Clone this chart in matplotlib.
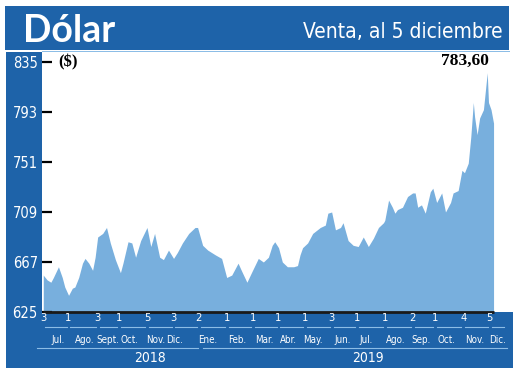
import matplotlib.pyplot as plt
from matplotlib.patches import Rectangle
from matplotlib.transforms import blended_transform_factory

# sesiones desde el 3 de julio de 2018 y valor de venta del dólar
sesion = [0, 3, 6, 8, 12, 15, 17, 20, 23, 25, 28, 31, 33, 36, 39, 41, 43, 47, 50, 53,
          57, 61, 63, 67, 70, 73, 77, 82, 85, 88, 92, 95, 99, 103, 106, 110, 115, 120, 122, 126,
          130, 136, 141, 145, 149, 154, 157, 161, 165, 170, 174, 178, 181, 183, 186, 189, 193, 198, 201, 203,
          205, 209, 213, 219, 223, 225, 228, 231, 235, 237, 241, 245, 249, 253, 257, 261, 265, 269, 270, 273,
          276, 278, 280, 284, 288, 292, 294, 296, 299, 302, 306, 308, 311, 315, 318, 322, 324, 328, 331, 333,
          336, 338, 340, 341, 343, 345, 348, 351, 352, 354, 356]
venta = [656, 652, 650, 654, 663, 654, 646, 639, 645, 646, 654, 666, 670, 666, 660, 671, 688, 691, 696, 683,
         669, 658, 666, 684, 683, 671, 685, 696, 680, 691, 671, 669, 677, 670, 675, 683, 691, 696, 696, 681,
         677, 673, 670, 654, 656, 666, 659, 650, 659, 670, 667, 671, 681, 684, 679, 667, 663, 663, 664, 673,
         679, 683, 691, 696, 698, 708, 709, 694, 696, 700, 685, 681, 680, 688, 680, 687, 696, 700, 702, 719,
         713, 708, 711, 713, 722, 725, 725, 713, 715, 708, 726, 729, 717, 725, 709, 717, 725, 727, 744, 742,
         750, 772, 801, 789, 774, 788, 795, 826, 801, 795, 783.6]

y_ticks = [625, 667, 709, 751, 793, 835]

# primer día hábil de cada mes
inicio_mes = [0, 20, 43, 60, 82, 103, 123, 145, 166, 186, 207, 228, 248, 270, 292, 310, 332, 353]
dia_mes = ["3", "1", "3", "1", "5", "3", "2", "1", "1", "1", "1", "3", "1", "1", "2", "1", "4", "5"]
meses = ["Jul.", "Ago.", "Sept.", "Oct.", "Nov.", "Dic.", "Ene.", "Feb.", "Mar.", "Abr.",
         "May.", "Jun.", "Jul.", "Ago.", "Sep.", "Oct.", "Nov.", "Dic."]
pos_meses = [12, 33, 51, 68, 89, 104, 130, 153, 175, 194, 213, 237, 255, 279, 299, 319, 341, 359]
anios = ["2018", "2019"]
pos_anios = [84, 257]
tramo_anios = [(-5, 122), (126, 367)]

AZUL = "#1e63a9"
AREA = "#78afdd"
CELESTE = "#8cbde6"
angosta = dict(family="DejaVu Sans", stretch="condensed")

W, H = 520, 372
fig = plt.figure(figsize=(W / 100, H / 100), dpi=100)


def px(x, y):
    return x / W, 1 - y / H


def caja(x0, y0, x1, y1, color):
    fx, fy = px(x0, y1)
    fig.patches.append(Rectangle((fx, fy), (x1 - x0) / W, (y1 - y0) / H,
                                 transform=fig.transFigure, color=color, lw=0, zorder=-5))


caja(5, 6, 509, 50, AZUL)       # cabecera
caja(6, 52, 42, 312, AZUL)      # columna eje y
caja(6, 312, 513, 368, AZUL)    # banda inferior
caja(42, 50.5, 510, 52, CELESTE)

fig.text(*px(23, 42), "Dólar", color="white", fontsize=27, fontweight="bold",
         family="Lato", va="baseline", ha="left")
fig.text(*px(503, 38), "Venta, al 5 diciembre", color="white", fontsize=15,
         va="baseline", ha="right", **angosta)

# área del gráfico
ax = fig.add_axes([42 / W, 1 - 312 / H, (510 - 42) / W, (312 - 52) / H])
ax.patch.set_alpha(0)
ax.fill_between(sesion, venta, 625, color=AREA, lw=0)
ax.plot([sesion[0], sesion[-1]], [625, 625], color="#1a1a1a", lw=2, clip_on=False,
        solid_capstyle="butt")
ax.set_xlim(-1, 369)
ax.set_ylim(625, 625 + 260 * 42 / 50)
for s in ax.spines.values():
    s.set_visible(False)
ax.set_xticks([])
ax.set_yticks(y_ticks)
ax.set_yticklabels([str(v) for v in y_ticks])
for lab in ax.get_yticklabels():
    lab.set_color("white")
    lab.set_fontsize(10.5)
    lab.set_fontstretch("condensed")
ax.tick_params(axis="y", direction="in", length=7.5, width=1.6, color="black", pad=3)

ax.text(12, 835, "($)", fontsize=12, fontweight="bold", family="Liberation Serif",
        va="center", ha="left")
ax.text(333, 829, "783,60", fontsize=12.5, fontweight="bold",
        family="Liberation Serif", va="bottom", ha="center")

# etiquetas del eje x en la banda inferior
tr = blended_transform_factory(ax.transData, fig.transFigure)
fy = lambda y: 1 - y / H
for x, d in zip(inicio_mes, dia_mes):
    ax.text(x, fy(318), d, transform=tr, color="white", fontsize=8,
            ha="center", va="center", clip_on=False, **angosta)
bordes = inicio_mes + [366]
for a, b in zip(bordes[:-1], bordes[1:]):
    ax.plot([a + 1.5, b - 1.5], [fy(327), fy(327)], transform=tr, color=CELESTE,
            lw=0.8, clip_on=False)
for x, m in zip(pos_meses, meses):
    ax.text(x, fy(340), m, transform=tr, color="white", fontsize=7,
            ha="center", va="center", clip_on=False, **angosta)
for (a, b), x, t in zip(tramo_anios, pos_anios, anios):
    ax.plot([a, b], [fy(348), fy(348)], transform=tr, color=CELESTE, lw=0.8, clip_on=False)
    ax.text(x, fy(358), t, transform=tr, color="white", fontsize=10,
            ha="center", va="center", clip_on=False, **angosta)

fig.savefig("out.png", dpi=100)
